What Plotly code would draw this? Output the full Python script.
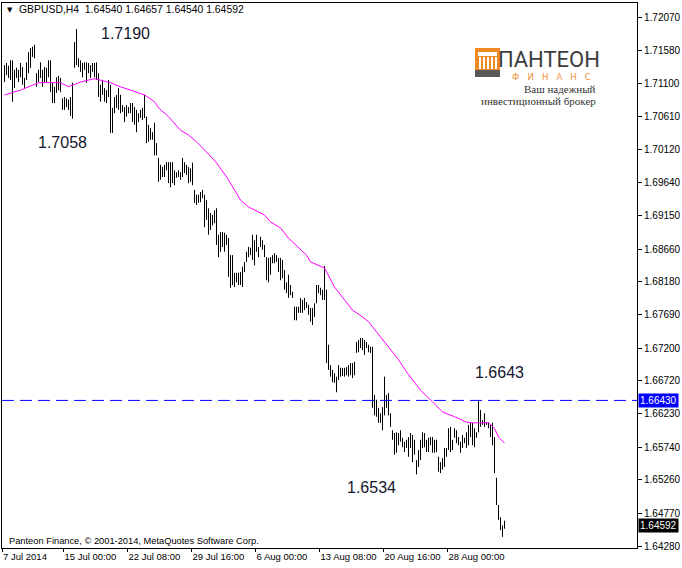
import plotly.graph_objects as go

# ---------------- data ----------------
symbol = "GBPUSD,H4"

highs = [
    1.7137, 1.7140, 1.7136, 1.7144, 1.7144, 1.7130, 1.7133, 1.7130, 1.7140, 1.7134,
    1.7118, 1.7141, 1.7156, 1.7162, 1.7164, 1.7167, 1.7125, 1.7130, 1.7141, 1.7130,
    1.7134, 1.7133, 1.7144, 1.7144, 1.7111, 1.7105, 1.7119, 1.7121, 1.7118, 1.7088,
    1.7090, 1.7088, 1.7086, 1.7090, 1.7111, 1.7171, 1.7190, 1.7147, 1.7144, 1.7140,
    1.7141, 1.7141, 1.7140, 1.7137, 1.7140, 1.7140, 1.7141, 1.7125, 1.7108,
    1.7115, 1.7103, 1.7100, 1.7115, 1.7108, 1.7074, 1.7090, 1.7093, 1.7103, 1.7093,
    1.7078, 1.7075, 1.7078, 1.7075, 1.7081, 1.7081, 1.7075, 1.7071, 1.7066, 1.7071,
    1.7074, 1.7093, 1.7061, 1.7049, 1.7044, 1.7038, 1.7052, 1.7022, 1.7000, 1.6990,
    1.6987, 1.6990, 1.6994, 1.6994, 1.6994, 1.6994, 1.6982, 1.6979, 1.6982, 1.6979,
    1.7000, 1.6994, 1.6990, 1.6987, 1.6985, 1.6993, 1.6953, 1.6946, 1.6946, 1.6950,
    1.6953, 1.6946, 1.6938, 1.6926, 1.6919, 1.6916, 1.6923, 1.6926, 1.6887, 1.6891,
    1.6891, 1.6890, 1.6887, 1.6882, 1.6857, 1.6857, 1.6831, 1.6831, 1.6831, 1.6832,
    1.6840, 1.6847, 1.6862, 1.6869, 1.6868, 1.6887, 1.6879, 1.6887, 1.6869, 1.6884,
    1.6879, 1.6872, 1.6854, 1.6853, 1.6854, 1.6857, 1.6860, 1.6857, 1.6853, 1.6853,
    1.6850, 1.6835, 1.6817, 1.6828, 1.6813, 1.6803, 1.6781, 1.6781, 1.6781, 1.6794,
    1.6791, 1.6794, 1.6788, 1.6784, 1.6779, 1.6779, 1.6786, 1.6813, 1.6813, 1.6809,
    1.6806, 1.6841, 1.6806, 1.6725, 1.6695, 1.6688, 1.6683, 1.6678, 1.6695, 1.6691,
    1.6691, 1.6691, 1.6692, 1.6695, 1.6698, 1.6698, 1.6700, 1.6729, 1.6732, 1.6735,
    1.6735, 1.6732, 1.6729, 1.6725, 1.6722, 1.6722, 1.6651, 1.6644, 1.6632, 1.6624,
    1.6633, 1.6678, 1.6651, 1.6654, 1.6624, 1.6599, 1.6595, 1.6596, 1.6595, 1.6599,
    1.6588, 1.6582, 1.6585, 1.6589, 1.6595, 1.6592, 1.6585, 1.6555, 1.6570, 1.6585,
    1.6596, 1.6595, 1.6585, 1.6588, 1.6589, 1.6589, 1.6585, 1.6585, 1.6560, 1.6552,
    1.6558, 1.6573, 1.6573, 1.6602, 1.6604, 1.6585, 1.6602, 1.6599, 1.6589, 1.6582,
    1.6592, 1.6588, 1.6596, 1.6607, 1.6610, 1.6610, 1.6602, 1.6596, 1.6643, 1.6629,
    1.6614, 1.6624, 1.6611, 1.6611, 1.6607, 1.6610, 1.6589, 1.6529, 1.6489, 1.6471,
    1.6459, 1.64657,
]

lows = [
    1.7112, 1.7122, 1.7118, 1.7115, 1.7083, 1.7103, 1.7118, 1.7112, 1.7119, 1.7108,
    1.7103, 1.7115, 1.7125, 1.7133, 1.7149, 1.7147, 1.7105, 1.7112, 1.7118, 1.7105,
    1.7111, 1.7112, 1.7119, 1.7097, 1.7081, 1.7081, 1.7096, 1.7100, 1.7097, 1.7071,
    1.7071, 1.7075, 1.7071, 1.7062, 1.7058, 1.7133, 1.7137, 1.7134, 1.7127, 1.7119,
    1.7130, 1.7111, 1.7125, 1.7118, 1.7127, 1.7119, 1.7115, 1.7090, 1.7083,
    1.7093, 1.7083, 1.7081, 1.7090, 1.7037, 1.7037, 1.7066, 1.7074, 1.7071, 1.7066,
    1.7068, 1.7053, 1.7061, 1.7066, 1.7066, 1.7053, 1.7049, 1.7038, 1.7053, 1.7059,
    1.7056, 1.7059, 1.7022, 1.7024, 1.7027, 1.7027, 1.7004, 1.7004, 1.6965, 1.6968,
    1.6972, 1.6972, 1.6982, 1.6963, 1.6957, 1.6963, 1.6960, 1.6971, 1.6972, 1.6968,
    1.6972, 1.6978, 1.6975, 1.6963, 1.6965, 1.6960, 1.6934, 1.6931, 1.6934, 1.6935,
    1.6941, 1.6898, 1.6909, 1.6887, 1.6894, 1.6901, 1.6904, 1.6872, 1.6854, 1.6862,
    1.6869, 1.6862, 1.6872, 1.6825, 1.6809, 1.6813, 1.6810, 1.6817, 1.6813, 1.6813,
    1.6810, 1.6832, 1.6847, 1.6854, 1.6857, 1.6850, 1.6842, 1.6862, 1.6854, 1.6869,
    1.6865, 1.6854, 1.6820, 1.6817, 1.6828, 1.6845, 1.6845, 1.6847, 1.6832, 1.6820,
    1.6823, 1.6806, 1.6801, 1.6794, 1.6798, 1.6794, 1.6761, 1.6761, 1.6772, 1.6772,
    1.6772, 1.6776, 1.6779, 1.6769, 1.6759, 1.6754, 1.6766, 1.6786, 1.6801, 1.6798,
    1.6791, 1.6791, 1.6698, 1.6688, 1.6678, 1.6670, 1.6669, 1.6655, 1.6673, 1.6678,
    1.6679, 1.6678, 1.6680, 1.6678, 1.6680, 1.6676, 1.6680, 1.6713, 1.6714, 1.6720,
    1.6717, 1.6710, 1.6720, 1.6714, 1.6713, 1.6632, 1.6621, 1.6619, 1.6610, 1.6610,
    1.6599, 1.6621, 1.6632, 1.6621, 1.6604, 1.6585, 1.6563, 1.6566, 1.6577, 1.6582,
    1.6574, 1.6567, 1.6573, 1.6560, 1.6573, 1.6552, 1.6563, 1.6534, 1.6545, 1.6555,
    1.6573, 1.6574, 1.6567, 1.6567, 1.6577, 1.6566, 1.6566, 1.6567, 1.6538, 1.6536,
    1.6541, 1.6545, 1.6560, 1.6570, 1.6567, 1.6570, 1.6588, 1.6580, 1.6577, 1.6566,
    1.6573, 1.6580, 1.6573, 1.6577, 1.6589, 1.6577, 1.6574, 1.6588, 1.6596, 1.6604,
    1.6607, 1.6604, 1.6607, 1.6602, 1.6589, 1.6577, 1.6536, 1.6489, 1.6467, 1.6452,
    1.6442, 1.64540,
]

last_open = 1.64540
last_close = 1.64592

# moving average (magenta) read at selected bars
ma_idx = [0, 8, 17, 28, 32, 38, 45, 48, 53, 58, 63, 70, 75, 77, 82, 88, 92, 96, 101,
          106, 112, 115, 118, 122, 127, 130, 133, 138, 142, 147, 151, 153, 157, 160,
          165, 170, 174, 179, 182, 186, 190, 192, 197, 201, 208, 214, 219, 225, 231,
          234, 242, 245, 247, 250]
ma_val = [1.7093, 1.7100, 1.7111, 1.7111, 1.7105, 1.7112, 1.7117, 1.7115, 1.7111,
          1.7105, 1.7100, 1.7093, 1.7083, 1.7074, 1.7061, 1.7041, 1.7034, 1.7024,
          1.7009, 1.6993, 1.6968, 1.6953, 1.6938, 1.6928, 1.6920, 1.6916, 1.6906,
          1.6897, 1.6882, 1.6868, 1.6857, 1.6847, 1.6842, 1.6838, 1.6810, 1.6791,
          1.6776, 1.6766, 1.6759, 1.6744, 1.6729, 1.6722, 1.6703, 1.6685, 1.6658,
          1.6641, 1.6626, 1.6619, 1.6611, 1.6610, 1.6610, 1.6602, 1.6589, 1.6580]

ytick_vals = [1.72070, 1.71580, 1.71100, 1.70610, 1.70120, 1.69640, 1.69150,
              1.68660, 1.68180, 1.67690, 1.67200, 1.66720, 1.66230, 1.65740,
              1.65260, 1.64770, 1.64280]

xtick_idx = [-1.2, 29.5, 61.5, 93.5, 125.5, 157.5, 189.5, 221.5]
xtick_text = ["7 Jul 2014", "15 Jul 00:00", "22 Jul 08:00", "29 Jul 16:00",
              "6 Aug 00:00", "13 Aug 08:00", "20 Aug 16:00", "28 Aug 00:00"]

hline_level = 1.66430

# labelled extremes: (bar index, "high"/"low")
marked_bars = [(36, "high"), (34, "low"), (237, "high"), (206, "low")]

# ---------------- layout geometry ----------------
W, H = 682, 568
PL, PR, PT, PB = 2, 637, 3, 548
Y_TOP, Y_BOT = 1.72284, 1.64256
X0 = -1.25
X1 = X0 + (PR - PL) / 2.0


def fx(xp):
    return (xp - PL) / (PR - PL)


def fy(yp):
    return (PB - yp) / (PB - PT)


FONT = "Liberation Sans, Arial, sans-serif"

fig = go.Figure()

# bars (high-low vertical strokes)
bx, by = [], []
for i, (h, l) in enumerate(zip(highs, lows)):
    bx += [i, i, None]
    by += [l, h, None]
fig.add_trace(go.Scatter(x=bx, y=by, mode="lines",
                         line=dict(color="black", width=1),
                         hoverinfo="skip", showlegend=False))

# moving average
fig.add_trace(go.Scatter(x=ma_idx, y=ma_val, mode="lines",
                         line=dict(color="#FF00FF", width=1),
                         hoverinfo="skip", showlegend=False))

shapes = []
# horizontal dashed level
shapes.append(dict(type="line", xref="paper", x0=0, x1=1, yref="y",
                   y0=hline_level, y1=hline_level,
                   line=dict(color="#0000FF", width=1, dash="12px,6px")))

# logo icon
shapes += [
    dict(type="rect", xref="paper", yref="paper", x0=fx(475), x1=fx(500),
         y0=fy(77), y1=fy(48), fillcolor="#EE8A1F", line=dict(width=0)),
    dict(type="rect", xref="paper", yref="paper", x0=fx(475), x1=fx(500),
         y0=fy(77), y1=fy(70), fillcolor="#5a5a5a", line=dict(width=0)),
    dict(type="rect", xref="paper", yref="paper", x0=fx(478), x1=fx(497),
         y0=fy(56), y1=fy(52), fillcolor="white", line=dict(width=0)),
]
for cx in [479, 483, 487, 491, 495]:
    shapes.append(dict(type="rect", xref="paper", yref="paper",
                       x0=fx(cx), x1=fx(cx + 2), y0=fy(69), y1=fy(57),
                       fillcolor="white", line=dict(width=0)))

ann = []
# chart title
ann.append(dict(xref="paper", yref="paper", x=fx(5), y=fy(10), xanchor="left",
                yanchor="middle", showarrow=False, text="▼",
                font=dict(family="DejaVu Sans", size=7, color="black")))
ann.append(dict(xref="paper", yref="paper", x=fx(17), y=fy(10), xanchor="left",
                yanchor="middle", showarrow=False,
                text=f"{symbol}  {last_open:.5f} {highs[-1]:.5f} {lows[-1]:.5f} {last_close:.5f}",
                font=dict(family=FONT, size=10.4, color="black")))
# footer
ann.append(dict(xref="paper", yref="paper", x=fx(7), y=fy(541), xanchor="left",
                yanchor="middle", showarrow=False,
                text="Panteon Finance, © 2001-2014, MetaQuotes Software Corp.",
                font=dict(family=FONT, size=9.3, color="black")))

# labelled extremes
label_shift = {36: (49, -4), 34: (-10, -24), 237: (21, 28), 206: (-45, -13)}
for idx, kind in marked_bars:
    val = highs[idx] if kind == "high" else lows[idx]
    dx, dy = label_shift[idx]
    ann.append(dict(x=idx, y=val, xref="x", yref="y", showarrow=False,
                    text=f"{val:.4f}", xshift=dx, yshift=dy,
                    font=dict(family=FONT, size=16, color="#15152e")))

# price boxes on the axis
ann.append(dict(xref="paper", yref="y", x=1, y=hline_level, xanchor="left",
                yanchor="middle", xshift=1, showarrow=False,
                text=f"{hline_level:.5f}", bgcolor="#0000FF", borderpad=1,
                font=dict(family=FONT, size=10, color="white")))
ann.append(dict(xref="paper", yref="y", x=1, y=last_close, xanchor="left",
                yanchor="middle", xshift=1, showarrow=False,
                text=f"{last_close:.5f}", bgcolor="black", borderpad=1,
                font=dict(family=FONT, size=10, color="white")))

# logo texts
ann.append(dict(xref="paper", yref="paper", x=fx(549), y=fy(59), xanchor="center",
                yanchor="middle", showarrow=False, text="ПАНТЕОН",
                font=dict(family="Roboto", size=22, color="#3d3d3d")))
ann.append(dict(xref="paper", yref="paper", x=fx(551), y=fy(77), xanchor="center",
                yanchor="middle", showarrow=False, text="Ф   И   Н   А   Н   С",
                font=dict(family="DejaVu Sans", size=8.5, color="#EE9440")))
ann.append(dict(xref="paper", yref="paper", x=fx(598), y=fy(89), xanchor="right",
                yanchor="middle", showarrow=False, text="Ваш надежный",
                font=dict(family="Liberation Serif", size=11, color="#333333")))
ann.append(dict(xref="paper", yref="paper", x=fx(598), y=fy(101), xanchor="right",
                yanchor="middle", showarrow=False, text="инвестиционный брокер",
                font=dict(family="Liberation Serif", size=11, color="#333333")))

fig.update_layout(
    width=W, height=H,
    margin=dict(l=PL, r=W - PR, t=PT, b=H - PB, pad=0),
    paper_bgcolor="white", plot_bgcolor="white",
    showlegend=False,
    shapes=shapes,
    annotations=ann,
    xaxis=dict(range=[X0, X1], showgrid=False, zeroline=False,
               showline=True, mirror=True, linecolor="black", linewidth=1,
               tickmode="array", tickvals=xtick_idx, ticktext=xtick_text,
               ticks="outside", ticklen=3, tickcolor="black", tickangle=0,
               ticklabelposition="outside right",
               tickfont=dict(family=FONT, size=9.5, color="black"),
               automargin=False, fixedrange=True),
    yaxis=dict(range=[Y_BOT, Y_TOP], side="right", showgrid=False, zeroline=False,
               showline=True, mirror=True, linecolor="black", linewidth=1,
               tickmode="array", tickvals=ytick_vals,
               ticktext=[f"{v:.5f}" for v in ytick_vals],
               ticks="outside", ticklen=4, tickcolor="black",
               tickfont=dict(family=FONT, size=10, color="black"),
               automargin=False, fixedrange=True),
)

fig.write_html("out.html", config={"displayModeBar": False},
               post_script="document.body.style.margin='0';document.body.style.overflow='hidden';")
